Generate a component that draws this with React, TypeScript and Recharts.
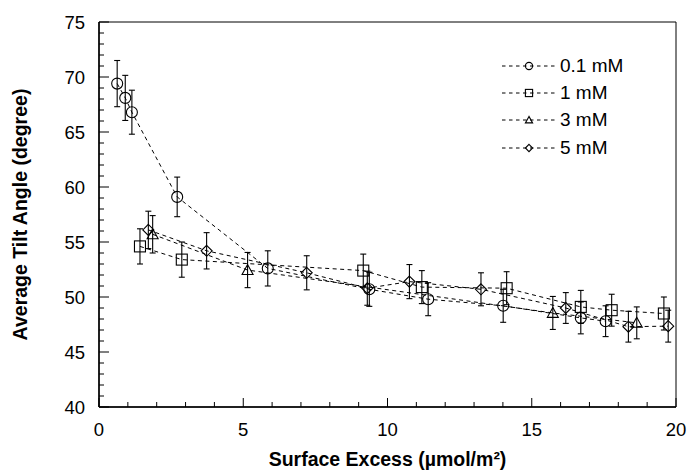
import React from 'react';
import { ScatterChart, Scatter, XAxis, YAxis, ErrorBar, Legend, ReferenceArea } from 'recharts';

// surface excess (umol/m2) vs. average tilt angle (degree), with error bars
const X_01 = [0.63, 0.91, 1.14, 2.71, 5.85, 9.37, 11.41, 14.01, 16.7, 17.56];
const Y_01 = [69.4, 68.1, 66.8, 59.1, 52.6, 50.7, 49.8, 49.2, 48.1, 47.8];
const E_01 = [2.1, 2.05, 2.0, 1.8, 1.6, 1.55, 1.5, 1.5, 1.45, 1.4];

const X_1 = [1.42, 2.87, 9.16, 11.19, 14.13, 16.7, 17.77, 19.58];
const Y_1 = [54.6, 53.4, 52.4, 50.9, 50.8, 49.1, 48.8, 48.5];
const E_1 = [1.6, 1.6, 1.5, 1.5, 1.5, 1.5, 1.45, 1.5];

const X_3 = [1.86, 5.15, 15.73, 18.64];
const Y_3 = [55.7, 52.45, 48.55, 47.65];
const E_3 = [1.7, 1.6, 1.5, 1.45];

const X_5 = [1.71, 3.73, 7.2, 9.3, 10.76, 13.24, 16.18, 18.35, 19.73];
const Y_5 = [56.1, 54.2, 52.2, 50.8, 51.4, 50.7, 49.0, 47.3, 47.35];
const E_5 = [1.7, 1.65, 1.55, 1.55, 1.55, 1.5, 1.4, 1.4, 1.45];

const X_TICKS = [0, 1, 2, 3, 4, 5, 6, 7, 8, 9, 10, 11, 12, 13, 14, 15, 16, 17, 18, 19, 20];
const Y_TICKS = [40, 41, 42, 43, 44, 45, 46, 47, 48, 49, 50, 51, 52, 53, 54, 55, 56, 57, 58, 59,
  60, 61, 62, 63, 64, 65, 66, 67, 68, 69, 70, 71, 72, 73, 74, 75];

const FONT = '"Liberation Sans", Arial, sans-serif';

const toRows = (xs: number[], ys: number[], es: number[]) =>
  xs.map((x, i) => ({ x, y: ys[i], err: es[i] }));

function marker(kind: string, cx: number, cy: number, s: number) {
  const p = { fill: 'none', stroke: '#000', strokeWidth: 1.1 };
  if (kind === 'circle') return <circle cx={cx} cy={cy} r={s} {...p} />;
  if (kind === 'square') return <rect x={cx - s} y={cy - s} width={2 * s} height={2 * s} {...p} />;
  if (kind === 'triangle')
    return <polygon points={`${cx},${cy - s} ${cx - s},${cy + s * 0.8} ${cx + s},${cy + s * 0.8}`} {...p} />;
  return <polygon points={`${cx},${cy - s} ${cx + s},${cy} ${cx},${cy + s} ${cx - s},${cy}`} {...p} />;
}

const SERIES = [
  { name: '0.1 mM', kind: 'circle', data: toRows(X_01, Y_01, E_01) },
  { name: '1 mM', kind: 'square', data: toRows(X_1, Y_1, E_1) },
  { name: '3 mM', kind: 'triangle', data: toRows(X_3, Y_3, E_3) },
  { name: '5 mM', kind: 'diamond', data: toRows(X_5, Y_5, E_5) },
];

function XTick({ x, y, payload }: any) {
  const v = payload.value;
  const major = v % 5 === 0;
  return (
    <g>
      <line x1={x} x2={x} y1={y} y2={y - (major ? 9 : 5)} stroke="#000" strokeWidth={1} />
      {major && (
        <text x={x} y={y + 29} textAnchor="middle" fontSize={18.5} fontFamily={FONT} fill="#000">
          {v}
        </text>
      )}
    </g>
  );
}

function YTick({ x, y, payload }: any) {
  const v = payload.value;
  const major = v % 5 === 0;
  return (
    <g>
      <line x1={x} x2={x + (major ? 10 : 5)} y1={y} y2={y} stroke="#000" strokeWidth={1} />
      {major && (
        <text x={x - 14} y={y} dy="0.36em" textAnchor="end" fontSize={18.5} fontFamily={FONT} fill="#000">
          {v}
        </text>
      )}
    </g>
  );
}

function LegendBox() {
  return (
    <div style={{ fontFamily: FONT, fontSize: 19, color: '#000' }}>
      {SERIES.map((s) => (
        <div key={s.name} style={{ display: 'flex', alignItems: 'center', height: 27.3 }}>
          <svg width={56} height={20} style={{ marginRight: 3 }}>
            <line x1={1} x2={55} y1={10} y2={10} stroke="#000" strokeWidth={1} strokeDasharray="3.5 3.5" />
            {marker(s.kind, 28, 10, 3.6)}
          </svg>
          <span>{s.name}</span>
        </div>
      ))}
    </div>
  );
}

export default function App() {
  return (
    <div style={{ position: 'absolute', left: 0, top: 0, background: '#fff' }}>
      <ScatterChart width={689} height={472} margin={{ top: 22, right: 13, bottom: 0, left: 0 }}>
        <XAxis
          type="number"
          dataKey="x"
          domain={[0, 20]}
          ticks={X_TICKS}
          interval={0}
          tickSize={0}
          tickMargin={0}
          tickLine={false}
          tick={<XTick />}
          axisLine={{ stroke: '#000', strokeWidth: 1.5 }}
          height={65}
          allowDataOverflow
          label={{
            value: 'Surface Excess (µmol/m²)',
            position: 'insideBottom',
            offset: 6,
            style: { fontFamily: FONT, fontSize: 19.5, fontWeight: 'bold', fill: '#000' },
          }}
        />
        <YAxis
          type="number"
          dataKey="y"
          domain={[40, 75]}
          ticks={Y_TICKS}
          interval={0}
          tickSize={0}
          tickMargin={0}
          tickLine={false}
          tick={<YTick />}
          axisLine={{ stroke: '#000', strokeWidth: 1.5 }}
          width={99}
          allowDataOverflow
          label={{
            value: 'Average Tilt Angle (degree)',
            angle: -90,
            position: 'insideLeft',
            offset: 20,
            style: { fontFamily: FONT, fontSize: 19.5, fontWeight: 'bold', fill: '#000', textAnchor: 'middle' },
          }}
        />
        <ReferenceArea x1={0} x2={20} y1={40} y2={75} fill="none" stroke="#000" strokeWidth={1} />
        {SERIES.map((s) => (
          <Scatter
            key={s.name}
            name={s.name}
            data={s.data}
            isAnimationActive={false}
            line={{ stroke: '#000', strokeWidth: 1, strokeDasharray: '4 3.5' }}
            shape={(props: any) => marker(s.kind, props.cx, props.cy, 5.5)}
          >
            <ErrorBar dataKey="err" direction="y" width={3} stroke="#000" strokeWidth={1.1} />
          </Scatter>
        ))}
        <Legend
          layout="vertical"
          align="center"
          verticalAlign="middle"
          content={() => <LegendBox />}
          wrapperStyle={{ top: 52, left: 501, width: 160, height: 112 }}
        />
      </ScatterChart>
    </div>
  );
}
